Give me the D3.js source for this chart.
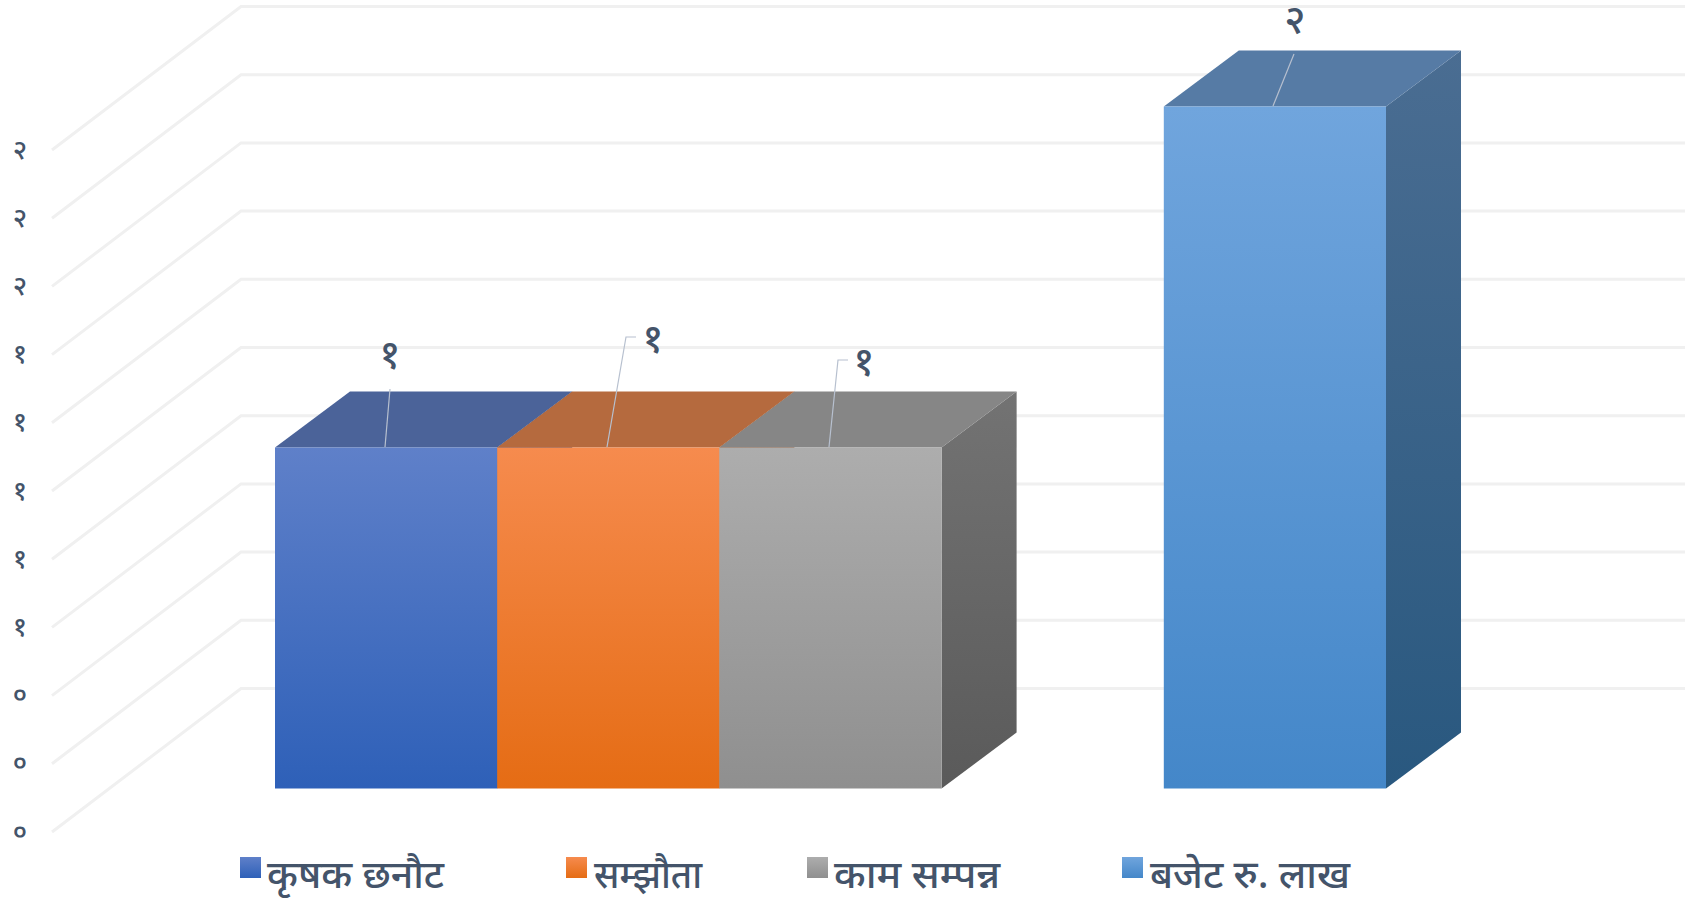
<!DOCTYPE html>
<html><head><meta charset="utf-8">
<script src="https://cdnjs.cloudflare.com/ajax/libs/d3/7.8.5/d3.min.js"></script>
<style>html,body{margin:0;padding:0;background:#fff;overflow:hidden}svg{display:block}</style>
</head><body><svg id="c" width="1690" height="904"></svg>
<script>
const seriesNames = ["कृषक छनौट","सम्झौता","काम सम्पन्न","बजेट रु. लाख"];
const seriesValues = [1,1,1,2];
const tickValues = [0,0.2,0.4,0.6,0.8,1,1.2,1.4,1.6,1.8,2];
const frontTop = ["#5f80c9","#f68b4e","#adadad","#70a5dd"];
const frontBottom = ["#2e60b8","#e56c14","#8f8f8f","#4487c9"];
const topFace = ["#4b6399","#b56a3e","#868686","#567ba5"];
const sideTop = ["#3f5c94","#b06030","#737373","#4a6d92"];
const sideBottom = ["#254c90","#a04f10","#5a5a5a","#29587f"];
const labelPos = [[390,358],[653,342],[864,365],[1295,23]];
const leaders = [[[385,447],[390,389]],[[607,447],[626,337],[636,337]],[[829,447],[838,360],[848,360]],[[1273,106],[1294,54]]];
const legendX = [240,566,807,1122];
const legendTextX = [267,594,834,1150];
const legendTextLen = [177,108,166,200];

const devanagari = n => String(n).replace(/\d/g,d=>"०१२३४५६७८९"[d]);
const svg = d3.select("#c");
const font = "'Noto Sans Devanagari','Noto Sans','Lohit Devanagari','Mangal',sans-serif";
const textColor = "#44546a";

const y = d3.scaleLinear().domain([0,2]).range([688.5,6.5]);
const slots = ["a","b","c","gap","d"];
const x = d3.scaleBand().domain(slots).range([275,1386]);
const barSlot = ["a","b","c","d"];
const wall = {left:241,right:1685,fx:-189,fy:143.5};
const barFrontDy = 100, barBackDy = 44, barDepthX = 75;

// grid
const grid = svg.append("g");
grid.selectAll("path").data(tickValues).join("path")
  .attr("d",t=>d3.line()([[wall.left+wall.fx,y(t)+wall.fy],[wall.left,y(t)],[wall.right,y(t)]]))
  .attr("fill","none").attr("stroke","#f0f0f0").attr("stroke-width",3);

// axis labels
svg.append("g").selectAll("text").data(tickValues).join("text")
  .attr("x",20).attr("y",t=>y(t)+wall.fy+2)
  .attr("text-anchor","middle").attr("dominant-baseline","central")
  .attr("font-family",font).attr("font-size",27).attr("font-weight",500).attr("fill",textColor)
  .text(t=>devanagari(Math.round(t)));

// gradients
const defs = svg.append("defs");
seriesNames.forEach((s,i)=>{
  const mk=(id,a,b)=>{const g=defs.append("linearGradient").attr("id",id).attr("x1",0).attr("x2",0).attr("y1",0).attr("y2",1);
    g.append("stop").attr("offset",0).attr("stop-color",a);g.append("stop").attr("offset",1).attr("stop-color",b);};
  mk("f"+i,frontTop[i],frontBottom[i]);mk("s"+i,sideTop[i],sideBottom[i]);
});

// bars
const bars = svg.append("g");
seriesValues.forEach((v,i)=>{
  const x0=x(barSlot[i]),x1=x0+x.bandwidth();
  const yb=y(0)+barFrontDy,yt=y(v)+barFrontDy,ybB=y(0)+barBackDy,ytB=y(v)+barBackDy;
  const g=bars.append("g");
  g.append("polygon").attr("points",[[x1,yt],[x1+barDepthX,ytB],[x1+barDepthX,ybB],[x1,yb]].join(" ")).attr("fill",`url(#s${i})`);
  g.append("polygon").attr("points",[[x0,yt],[x0+barDepthX,ytB],[x1+barDepthX,ytB],[x1,yt]].join(" ")).attr("fill",topFace[i]);
  g.append("rect").attr("x",x0).attr("y",yt).attr("width",x.bandwidth()).attr("height",yb-yt).attr("fill",`url(#f${i})`);
});

// leader lines
svg.append("g").selectAll("path").data(leaders).join("path")
  .attr("d",d=>d3.line()(d)).attr("fill","none").attr("stroke","#b7c0cf").attr("stroke-width",1.2);

// data labels
svg.append("g").selectAll("text").data(seriesValues).join("text")
  .attr("x",(d,i)=>labelPos[i][0]).attr("y",(d,i)=>labelPos[i][1])
  .attr("text-anchor","middle").attr("dominant-baseline","central")
  .attr("font-family",font).attr("font-size",40).attr("font-weight",500).attr("fill",textColor)
  .text(d=>devanagari(d));

// legend
const lg = svg.append("g");
const lgrad=(i)=>{const g=defs.append("linearGradient").attr("id","l"+i).attr("x1",0).attr("x2",0).attr("y1",0).attr("y2",1);
  g.append("stop").attr("offset",0).attr("stop-color",frontTop[i]);g.append("stop").attr("offset",1).attr("stop-color",frontBottom[i]);};
seriesNames.forEach((s,i)=>{
  lgrad(i);
  lg.append("rect").attr("x",legendX[i]).attr("y",857).attr("width",21).attr("height",21).attr("fill",`url(#l${i})`);
  lg.append("text").attr("x",legendTextX[i]).attr("y",888)
    .attr("font-family",font).attr("font-size",39).attr("font-weight",500).attr("fill",textColor)
    .attr("textLength",legendTextLen[i]).attr("lengthAdjust","spacingAndGlyphs").text(s);
});
</script></body></html>
